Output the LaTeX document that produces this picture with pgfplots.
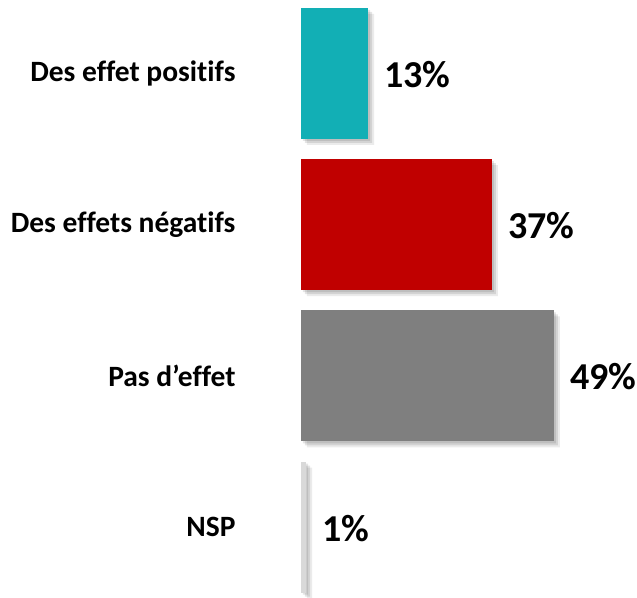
\documentclass[border=0pt]{standalone}
\usepackage{fontspec}
\setmainfont{Carlito}[Ligatures={NoCommon}]
\usepackage{pgfplots}
\pgfplotsset{compat=1.18}
\definecolor{cteal}{HTML}{12AFB5}
\definecolor{cred}{HTML}{C00000}
\definecolor{cgray}{HTML}{7F7F7F}
\definecolor{clight}{HTML}{D9D9D9}
\pgfplotstableread{
x y
13 0
37 1
49 2
1 3
}\data
\begin{document}
\begin{tikzpicture}
\begin{axis}[
  xbar,
  scale only axis,
  width=336pt, height=597pt,
  xmin=0, xmax=65.1,
  ymin=-0.486, ymax=3.462,
  y dir=reverse,
  bar width=131pt,
  bar shift=0pt,
  clip=false,
  axis line style={draw=none},
  tick style={draw=none},
  xtick=\empty,
  ytick={0,1,2,3},
  yticklabels={Des effet positifs,Des effets négatifs,Pas d’effet,NSP},
  yticklabel style={anchor=east, inner sep=0pt, xshift=-61pt, font=\bfseries\fontsize{29.5}{33}\selectfont},
  every axis plot/.append style={draw=none},
]
% soft shadows
\addplot[fill=black, fill opacity=0.10, xshift=2pt, yshift=-2pt] table {\data};
\addplot[fill=black, fill opacity=0.10, xshift=4pt, yshift=-4pt] table {\data};
\addplot[fill=black, fill opacity=0.08, xshift=6pt, yshift=-6pt] table {\data};
% bars
\pgfplotsset{every axis plot/.append style={
  nodes near coords={\pgfmathprintnumber[assume math mode=true]{\pgfplotspointmeta}\%},
  point meta=x,
  every node near coord/.append style={font=\bfseries\fontsize{38}{42}\selectfont, anchor=west, inner sep=0pt, xshift=16pt, yshift=-1pt, text=black, fill opacity=1, text opacity=1}}}
\addplot[fill=cteal] coordinates {(13,0)};
\addplot[fill=cred] coordinates {(37,1)};
\addplot[fill=cgray] coordinates {(49,2)};
\addplot[fill=clight] coordinates {(1,3)};
\end{axis}
\pgfresetboundingbox
\path (current axis.south west) ++(-301pt,0) rectangle (current axis.north east);
\end{tikzpicture}
\end{document}
